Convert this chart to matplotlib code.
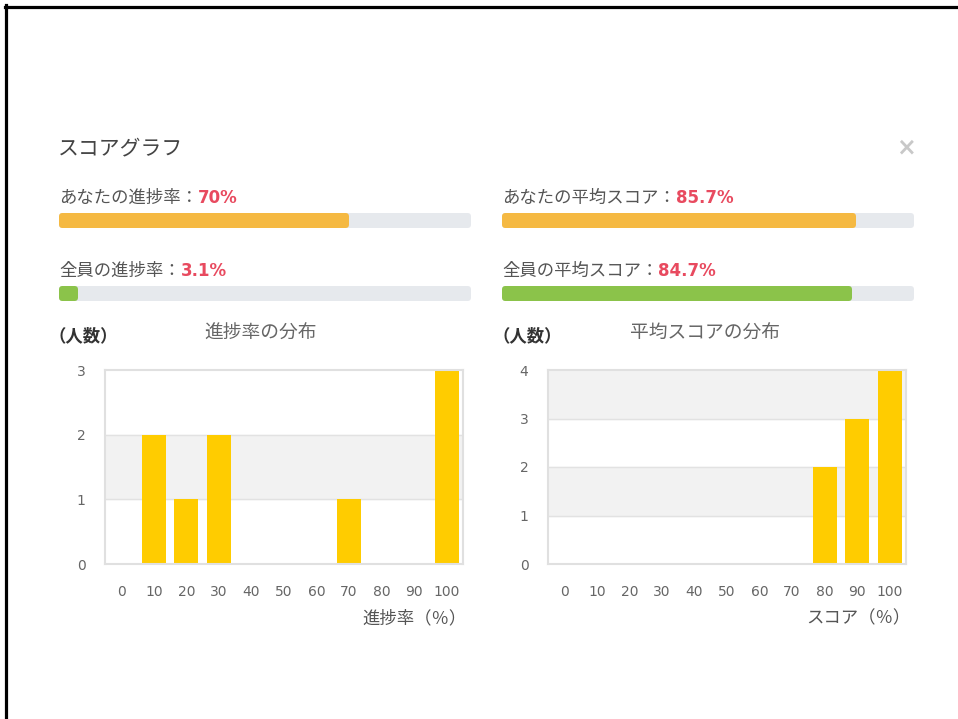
import matplotlib
matplotlib.use("Agg")
import matplotlib.pyplot as plt
from matplotlib.lines import Line2D

plt.rcParams['font.family'] = ['Noto Sans CJK JP', 'DejaVu Sans']

# progress values (%)
my_progress = 70
all_progress = 3.1
my_score = 85.7
all_score = 84.7

# histogram data
bins = [0, 10, 20, 30, 40, 50, 60, 70, 80, 90, 100]
progress_counts = [0, 2, 1, 2, 0, 0, 0, 1, 0, 0, 3]
score_counts = [0, 0, 0, 0, 0, 0, 0, 0, 2, 3, 4]

W, H = 958, 719
fig = plt.figure(figsize=(W / 100, H / 100), dpi=100)
fig.patch.set_facecolor('white')


def fx(x):
    return x / W


def fy(y):
    return 1 - y / H


def box(x0, y0, x1, y1):
    return [fx(x0), fy(y1), fx(x1) - fx(x0), fy(y0) - fy(y1)]


# window border (top and left)
fig.add_artist(Line2D([fx(5), 1], [fy(7), fy(7)], color='black', lw=2.3))
fig.add_artist(Line2D([fx(6), fx(6)], [fy(5), 0], color='black', lw=2.3))

fig.text(fx(58), fy(148), 'スコアグラフ', fontsize=15, color='#444444',
         va='center', ha='left')
fig.text(fx(906), fy(147), '×', fontsize=17, color='#c8c8c8',
         fontweight='bold', va='center', ha='center', family='DejaVu Sans')

ORANGE = '#f5b942'
GREEN = '#8bc34a'
TRACK = '#e6e9ed'
RED = '#e84a5f'


def progress(x0, y_text, y_bar, label, value, color):
    t = fig.text(fx(x0), fy(y_text), label, fontsize=12.5, color='#555555',
                 va='center', ha='left')
    fig.canvas.draw()
    bb = t.get_window_extent()
    fig.text(bb.x1 / W, fy(y_text), f'{value}%', fontsize=12, color=RED,
             fontweight='bold', va='center', ha='left', family='DejaVu Sans')
    r = 3
    ax = fig.add_axes(box(x0 + r, y_bar - 7.5 + r, x0 + 412 - r, y_bar + 7.5 - r))
    for v, c in ((100, TRACK), (value, color)):
        bars = ax.barh([0], [v], height=1, color=c, edgecolor=c,
                       linewidth=2 * r * 0.72)
        for p in bars:
            p.set_joinstyle('round')
            p.set_clip_on(False)
    ax.set_xlim(0, 100)
    ax.set_ylim(-0.5, 0.5)
    ax.axis('off')


progress(59, 198, 220.5, 'あなたの進捗率：', my_progress, ORANGE)
progress(59, 271, 293.5, '全員の進捗率：', all_progress, GREEN)
progress(502, 198, 220.5, 'あなたの平均スコア：', my_score, ORANGE)
progress(502, 271, 293.5, '全員の平均スコア：', all_score, GREEN)


def histogram(x0, x1, counts, ymax, title, title_x, xlabel, label_x):
    ax = fig.add_axes(box(x0, 370, x1, 564))
    for k in range(1, ymax, 2):
        ax.axhspan(k, k + 1, color='#f2f2f2', zorder=0)
    for k in range(1, ymax):
        ax.axhline(k, color='#e2e2e2', lw=1, zorder=1)
    pos = list(range(len(bins)))
    ax.bar(pos, counts, width=0.73, color='#ffcc00', zorder=2)
    ax.set_xlim(-0.5, len(bins) - 0.5)
    ax.set_ylim(0, ymax)
    ax.set_xticks(pos)
    ax.set_xticklabels([str(b) for b in bins], family='DejaVu Sans')
    ax.set_yticks(range(0, ymax + 1))
    ax.set_yticklabels([str(k) for k in range(0, ymax + 1)], family='DejaVu Sans')
    ax.tick_params(length=0, colors='#666666', labelsize=10)
    ax.tick_params(axis='x', pad=15)
    ax.tick_params(axis='y', pad=14)
    for s in ax.spines.values():
        s.set_color('#e0e0e0')
        s.set_linewidth(1.5)
    fig.text(fx(x0 - 56), fy(336), '（人数）', fontsize=12.5, color='#333333',
             fontweight='bold', va='center', ha='left')
    fig.text(fx(title_x), fy(333), title, fontsize=13.5, color='#666666',
             va='center', ha='center')
    fig.text(fx(label_x), fy(618), xlabel, fontsize=12.5, color='#555555',
             va='center', ha='right')


histogram(105, 463, progress_counts, 3, '進捗率の分布', 261, '進捗率（％）', 467)
histogram(548, 906, score_counts, 4, '平均スコアの分布', 705, 'スコア（％）', 911)

fig.savefig('out.png', dpi=100)
